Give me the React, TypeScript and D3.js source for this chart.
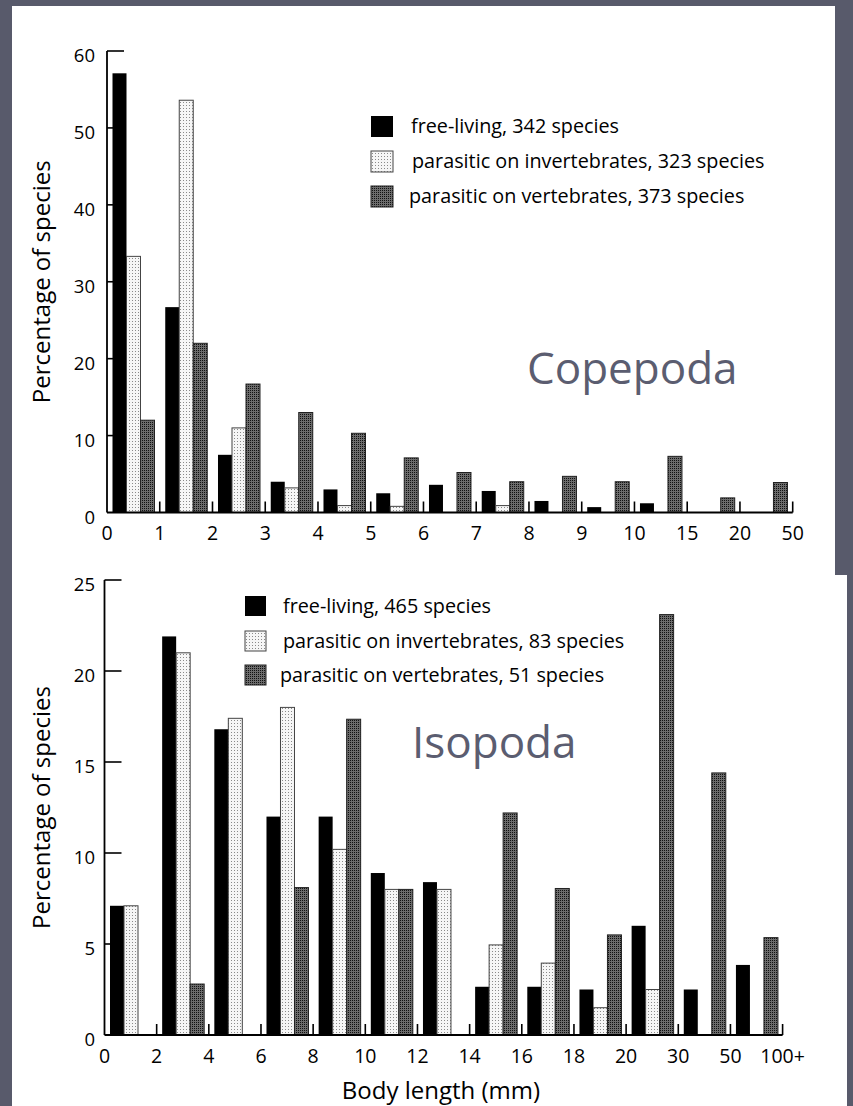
import React from "react";
import * as d3 from "d3";

// ---------- Data ----------
const seriesKeys = ["free", "inv", "vert"];

const copLabels = ["0", "1", "2", "3", "4", "5", "6", "7", "8", "9", "10", "15", "20", "50"];
const copFree = [57.1, 26.7, 7.5, 4.0, 3.0, 2.5, 3.6, 2.8, 1.5, 0.7, 1.2, 0, 0];
const copInv = [33.3, 53.6, 11.0, 3.2, 0.9, 0.8, 0, 0.9, 0, 0, 0, 0, 0];
const copVert = [12.0, 22.0, 16.7, 13.0, 10.3, 7.1, 5.2, 4.0, 4.7, 4.0, 7.3, 1.9, 3.9];
const copYTicks = [0, 10, 20, 30, 40, 50, 60];
const copLegend = [
  "free-living, 342 species",
  "parasitic on invertebrates, 323 species",
  "parasitic on vertebrates, 373 species",
];

const isoLabels = ["0", "2", "4", "6", "8", "10", "12", "14", "16", "18", "20", "30", "50", "100+"];
const isoFree = [7.1, 21.9, 16.8, 12.0, 12.0, 8.9, 8.4, 2.65, 2.65, 2.5, 6.0, 2.5, 3.85];
const isoInv = [7.1, 21.0, 17.4, 18.0, 10.2, 8.0, 8.0, 4.95, 3.95, 1.5, 2.5, 0, 0];
const isoVert = [0, 2.8, 0, 8.1, 17.35, 8.0, 0, 12.2, 8.05, 5.5, 23.1, 14.4, 5.35];
const isoYTicks = [0, 5, 10, 15, 20, 25];
const isoLegend = [
  "free-living, 465 species",
  "parasitic on invertebrates, 83 species",
  "parasitic on vertebrates, 51 species",
];

const FONT = "'Open Sans', 'Noto Sans', sans-serif";
const TITLE_COLOR = "#5b5d70";

const fills: Record<string, string> = {
  free: "#000",
  inv: "url(#lightPat)",
  vert: "url(#darkPat)",
};
const strokes: Record<string, string> = {
  free: "none",
  inv: "#444",
  vert: "#222",
};

type ChartProps = {
  x0: number;
  x1: number;
  yBase: number;
  yTop: number;
  yMax: number;
  yTicks: number[];
  longTicks: number[];
  labels: string[];
  data: number[][];
  legend: string[];
  legendX: number;
  legendTextX: number[];
  legendY: number[];
  legendSize: number;
  title: string;
  titleX: number;
  titleY: number;
  tickLabelY: number;
  yLabelX: number;
};

function Chart(p: ChartProps) {
  const nBins = p.labels.length - 1;
  const bins = d3.range(nBins);
  const xBand = d3.scaleBand<number>().domain(bins).range([p.x0, p.x1]).paddingInner(0).paddingOuter(0);
  const bw = xBand.bandwidth();
  const inner = d3.scaleBand<string>().domain(seriesKeys).range([5.5, 5.5 + 42]).padding(0);
  const y = d3.scaleLinear().domain([0, p.yMax]).range([p.yBase, p.yTop]);
  const boundary = (i: number) => p.x0 + i * bw;

  return (
    <g>
      {/* bars */}
      {seriesKeys.map((k, si) =>
        bins.map((b) => {
          const v = p.data[si][b];
          if (!v) return null;
          const bx = (xBand(b) as number) + (inner(k) as number);
          return (
            <rect
              key={k + b}
              x={bx}
              y={y(v)}
              width={inner.bandwidth()}
              height={p.yBase - y(v)}
              fill={fills[k]}
              stroke={strokes[k]}
              strokeWidth={1}
            />
          );
        })
      )}
      {/* axes */}
      <line x1={p.x0} x2={p.x0} y1={p.yTop} y2={p.yBase} stroke="#000" strokeWidth={1.8} />
      <line x1={p.x0} x2={p.x1} y1={p.yBase} y2={p.yBase} stroke="#000" strokeWidth={1.8} />
      {p.yTicks.map((t) => (
        <g key={"yt" + t}>
          {t !== 0 && (
            <line
              x1={p.x0}
              x2={p.x0 + (p.longTicks.includes(t) ? 17 : 6)}
              y1={y(t)}
              y2={y(t)}
              stroke="#000"
              strokeWidth={1.6}
            />
          )}
          <text x={95} y={y(t) + 11} textAnchor="end" fontFamily={FONT} fontSize={18.5} fill="#000">
            {t}
          </text>
        </g>
      ))}
      {d3.range(1, nBins + 1).map((i) => (
        <line
          key={"xt" + i}
          x1={boundary(i)}
          x2={boundary(i)}
          y1={p.yBase}
          y2={p.yBase - 11}
          stroke="#000"
          strokeWidth={1.6}
        />
      ))}
      {p.labels.map((l, i) => (
        <text
          key={"xl" + i}
          x={boundary(i)}
          y={p.tickLabelY}
          textAnchor="middle"
          fontFamily={FONT}
          fontSize={19.5}
          fill="#000"
        >
          {l}
        </text>
      ))}
      {/* y label */}
      <text
        transform={`translate(${p.yLabelX},${(p.yBase + p.yTop) / 2}) rotate(-90)`}
        textAnchor="middle"
        fontFamily={FONT}
        fontSize={24}
        fill="#000"
      >
        Percentage of species
      </text>
      {/* legend */}
      {seriesKeys.map((k, i) => (
        <g key={"lg" + k}>
          <rect
            x={p.legendX}
            y={p.legendY[i] - 17}
            width={p.legendSize}
            height={p.legendSize - 1}
            fill={fills[k]}
            stroke={strokes[k]}
            strokeWidth={1}
          />
          <text x={p.legendTextX[i]} y={p.legendY[i]} fontFamily={FONT} fontSize={19.8} fill="#000">
            {p.legend[i]}
          </text>
        </g>
      ))}
      <text x={p.titleX} y={p.titleY} fontFamily={FONT} fontSize={44} fill={TITLE_COLOR}>
        {p.title}
      </text>
    </g>
  );
}

export default function App() {
  return (
    <svg
      width={853}
      height={1106}
      viewBox="0 0 853 1106"
      style={{ position: "absolute", left: 0, top: 0, display: "block" }}
    >
      <defs>
        <pattern id="lightPat" width={3} height={3} patternUnits="userSpaceOnUse">
          <rect width={3} height={3} fill="#f6f6f6" />
          <rect x={0} y={0} width={1} height={1} fill="#8a8a8a" />
        </pattern>
        <pattern id="darkPat" width={2} height={2} patternUnits="userSpaceOnUse">
          <rect width={2} height={2} fill="#6c6c6c" />
          <rect x={0} y={0} width={1} height={1} fill="#111" />
        </pattern>
      </defs>
      <rect x={0} y={0} width={853} height={1106} fill="#585a6b" />
      <rect x={12} y={6} width={823} height={570} fill="#fff" />
      <rect x={12} y={575} width={835} height={531} fill="#fff" />

      <Chart
        x0={107}
        x1={792.7}
        yBase={512.5}
        yTop={51}
        yMax={60}
        yTicks={copYTicks}
        longTicks={[60]}
        labels={copLabels}
        data={[copFree, copInv, copVert]}
        legend={copLegend}
        legendX={371}
        legendTextX={[411, 412, 409]}
        legendY={[133, 168, 203]}
        legendSize={22}
        title="Copepoda"
        titleX={527}
        titleY={384}
        tickLabelY={540}
        yLabelX={50}
      />
      <Chart
        x0={104.5}
        x1={782.6}
        yBase={1035}
        yTop={580}
        yMax={25}
        yTicks={isoYTicks}
        longTicks={[10, 15, 20, 25]}
        labels={isoLabels}
        data={[isoFree, isoInv, isoVert]}
        legend={isoLegend}
        legendX={245}
        legendTextX={[283, 283, 280]}
        legendY={[613, 648, 682]}
        legendSize={21}
        title="Isopoda"
        titleX={412}
        titleY={758}
        tickLabelY={1063}
        yLabelX={50}
      />
      <text x={441} y={1099} textAnchor="middle" fontFamily={FONT} fontSize={24} fill="#000">
        Body length (mm)
      </text>
    </svg>
  );
}
